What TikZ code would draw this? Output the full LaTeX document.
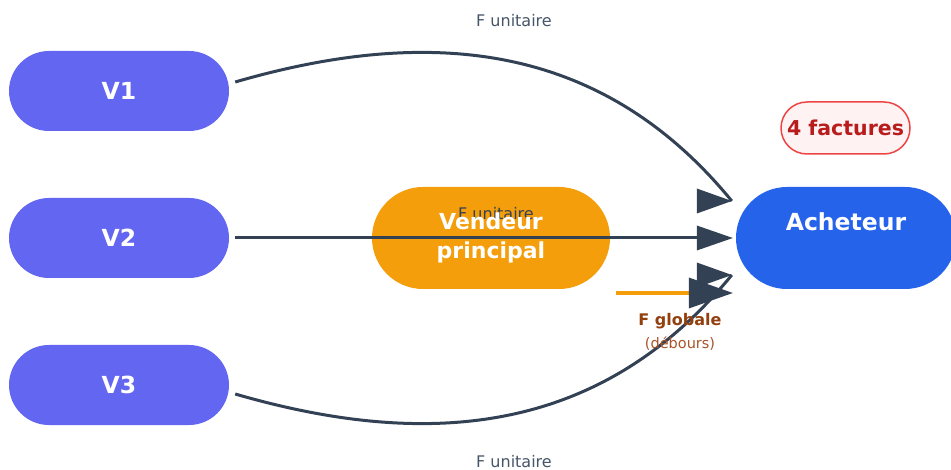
\documentclass[tikz,border=0pt]{standalone}
\usepackage{fontspec}
\setmainfont{DejaVu Sans}
\usetikzlibrary{calc}
\definecolor{vcol}{HTML}{6366F1}
\definecolor{vpcol}{HTML}{F59E0B}
\definecolor{achcol}{HTML}{2563EB}
\definecolor{factfill}{HTML}{FEF2F2}
\definecolor{factdraw}{HTML}{EF4444}
\definecolor{facttext}{HTML}{B91C1C}
\definecolor{edgecol}{HTML}{334155}
\definecolor{lblcol}{HTML}{475569}
\definecolor{globcol}{HTML}{92400E}
\definecolor{debcol}{HTML}{A8552A}
\begin{document}
\begin{tikzpicture}[x=1pt,y=-1pt,
  pill/.style={rectangle, rounded corners=#1, inner sep=0pt},
  bigtext/.style={text=white, font=\fontsize{23.5}{29}\selectfont\bfseries, align=center},
  vnode/.style={pill=40pt, fill=vcol, minimum width=220pt, minimum height=80pt, bigtext},
  edgeline/.style={draw=edgecol, line width=3pt},
  headtri/.style={fill=edgecol},
  lbl/.style={text=lblcol, font=\fontsize{16}{19}\selectfont}
]
\useasboundingbox (0,0) rectangle (951,470);
\clip (0,0) rectangle (951,470);
\fill[white] (0,0) rectangle (951,470);

% nodes
\node[vnode] (v1) at (119,91) {V1};
\node[vnode] (v2) at (119,238) {V2};
\node[vnode] (v3) at (119,385) {V3};
\node[pill=51pt, fill=vpcol, minimum width=238pt, minimum height=102pt] (vp) at (491,238) {};
\node[pill=51pt, fill=achcol, minimum width=220pt, minimum height=102pt] (ach) at (846,238) {};
\node[pill=26pt, fill=factfill, draw=factdraw, line width=1.5pt, minimum width=129pt, minimum height=52pt,
      text=facttext, font=\fontsize{20.5}{24}\selectfont\bfseries] (fact) at (845.5,128) {4 factures};

% arrow tips
\coordinate (t1) at ($(ach.west)+(-4,-37)$);
\coordinate (t2) at ($(ach.west)+(-3,0)$);
\coordinate (t3) at ($(ach.west)+(-4,37)$);
\coordinate (t4) at ($(ach.west)+(-3,55)$);

% orange global line
\draw[draw=vpcol, line width=3.5pt] ($(vp.east)+(6,55)$) -- ($(t4)+(-35,0)$);

% connectors
\draw[edgeline] ($(v1.east)+(6,-9)$) .. controls (435,24) and (604,45) .. (t1);
\draw[edgeline] ($(v2.east)+(6,0)$) -- ($(t2)+(-20,0)$);
\draw[edgeline] ($(v3.east)+(6,9)$) .. controls (435,452) and (604,431) .. (t3);

% arrow heads
\fill[headtri] (t1) -- ++(-35,-12.5) -- ++(0,25) -- cycle;
\fill[headtri] (t2) -- ++(-36,-12.5) -- ++(0,25) -- cycle;
\fill[headtri] (t3) -- ++(-35,-12.5) -- ++(0,25) -- cycle;
\fill[headtri] (t4) -- ++(-44,-15.5) -- ++(0,31) -- cycle;

% labels
\node[lbl] (l1) at (514,21) {F unitaire};
\node[lbl, text=edgecol] (l2) at (496,214) {F unitaire};
\node[lbl] (l3) at (514,462) {F unitaire};
\node[text=globcol, font=\fontsize{16}{19}\selectfont\bfseries] (g1) at (680,321) {F globale};
\node[text=debcol, font=\fontsize{14.5}{17}\selectfont] (g2) at (680,344) {(débours)};

% node texts drawn on top
\node[bigtext, font=\fontsize{22}{29}\selectfont\bfseries] (vpt) at (vp.center) {Vendeur\\principal};
\node[bigtext] (acht) at ($(ach.center)+(0,-16)$) {Acheteur};
\end{tikzpicture}
\end{document}
